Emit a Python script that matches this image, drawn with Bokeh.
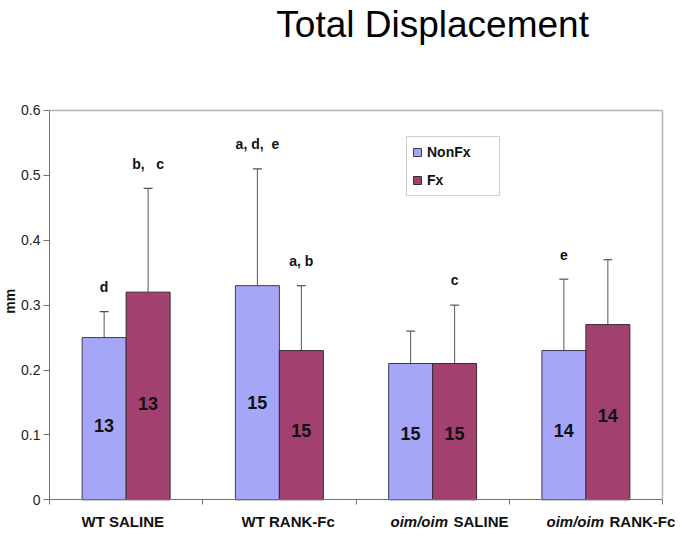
import math
from bokeh.plotting import figure
from bokeh.models import (ColumnDataSource, Range1d, FixedTicker, Whisker, TeeHead,
                          LabelSet, Label, Legend, LegendItem, LinearAxis)
from bokeh.core.properties import value
from bokeh.embed import file_html
from bokeh.resources import INLINE

# ---- data ----
groups = ["WT SALINE", "WT RANK-Fc", "oim/oim SALINE", "oim/oim RANK-Fc"]
label_italic = ["", "", "oim/oim", "oim/oim"]
label_plain = ["WT SALINE", "WT RANK-Fc", "SALINE", "RANK-Fc"]
nonfx_mean = [0.25, 0.33, 0.21, 0.23]
nonfx_err = [0.04, 0.18, 0.05, 0.11]
fx_mean = [0.32, 0.23, 0.21, 0.27]
fx_err = [0.16, 0.10, 0.09, 0.10]
nonfx_n = ["13", "15", "15", "14"]
fx_n = ["13", "15", "15", "14"]
nonfx_sig = ["d", "a, d,\u00a0\u00a0e", "", "e"]
fx_sig = ["b,\u00a0\u00a0\u00a0c", "a, b", "c", ""]
y_ticks = [0, 0.1, 0.2, 0.3, 0.4, 0.5, 0.6]
y_max = 0.6

# ---- layout helpers (not data) ----
W, H = 679, 531
PX_X = 153.25          # px per group
PX_Y = 648.9           # px per mm
AX_LEFT, AX_BOTTOM = 49, 499.3   # pixel position of data origin
bar_w = 0.287
nonfx_label_y = [0.114, 0.150, 0.102, 0.107]
fx_label_y = [0.149, 0.107, 0.102, 0.130]
xlabel_left = [0.209, 0.253, 0.225, 0.243]

NONFX_COLOR = "#a6a6f8"
FX_COLOR = "#a2416f"
FONT = "Liberation Sans"
AXIS_COLOR = "#707070"
BORDER_COLOR = "#b4b4b4"

n_groups = len(groups)
idx = list(range(n_groups))
x_non = [i + 0.5 - bar_w / 2 for i in idx]
x_fx = [i + 0.5 + bar_w / 2 for i in idx]

src_non = ColumnDataSource(dict(
    x=x_non, top=nonfx_mean, upper=[m + e for m, e in zip(nonfx_mean, nonfx_err)],
    n=nonfx_n, ny=nonfx_label_y, sig=nonfx_sig,
    sy=[m + e + 0.038 for m, e in zip(nonfx_mean, nonfx_err)]))
src_fx = ColumnDataSource(dict(
    x=x_fx, top=fx_mean, upper=[m + e for m, e in zip(fx_mean, fx_err)],
    n=fx_n, ny=fx_label_y, sig=fx_sig,
    sy=[m + e + 0.038 for m, e in zip(fx_mean, fx_err)]))

x_start = -AX_LEFT / PX_X
x_end = (W - AX_LEFT) / PX_X
y_start = -(H - AX_BOTTOM) / PX_Y
y_end = AX_BOTTOM / PX_Y

p = figure(width=W, height=H, output_backend="svg", toolbar_location=None,
           x_range=Range1d(x_start, x_end), y_range=Range1d(y_start, y_end),
           x_axis_location=None, y_axis_location=None,
           min_border=0, min_border_left=0, min_border_right=0,
           min_border_top=0, min_border_bottom=0)
p.background_fill_color = "white"
p.border_fill_color = "white"
p.outline_line_color = None
p.xgrid.visible = False
p.ygrid.visible = False

# y axis at x = 0
yax = LinearAxis(fixed_location=0, bounds=(0, y_max), ticker=FixedTicker(ticks=y_ticks))
yax.major_label_text_font = FONT
yax.major_label_text_font_size = "14px"
yax.major_label_text_color = "#222222"
yax.major_tick_out = 6
yax.major_tick_in = 0
yax.minor_tick_line_color = None
yax.major_label_standoff = 3
yax.axis_line_color = AXIS_COLOR
yax.major_tick_line_color = AXIS_COLOR
p.add_layout(yax, "left")

# x axis at y = 0 (category boundaries as ticks)
xax = LinearAxis(fixed_location=0, bounds=(0, n_groups),
                 ticker=FixedTicker(ticks=list(range(n_groups + 1))))
xax.major_label_overrides = {i: "" for i in range(n_groups + 1)}
xax.major_tick_out = 5
xax.major_tick_in = 0
xax.minor_tick_line_color = None
xax.axis_line_color = AXIS_COLOR
xax.major_tick_line_color = AXIS_COLOR
p.add_layout(xax, "below")

# plot-area border (top & right)
top_ax = LinearAxis(fixed_location=y_max, bounds=(0, n_groups), ticker=FixedTicker(ticks=[]))
top_ax.axis_line_color = BORDER_COLOR
top_ax.axis_line_width = 1.5
top_ax.major_label_text_font_size = "0px"
p.add_layout(top_ax, "above")
right_ax = LinearAxis(fixed_location=n_groups, bounds=(0, y_max), ticker=FixedTicker(ticks=[]))
right_ax.axis_line_color = BORDER_COLOR
right_ax.axis_line_width = 1.5
right_ax.major_label_text_font_size = "0px"
p.add_layout(right_ax, "right")

# whiskers (upward only)
for src in (src_non, src_fx):
    w = Whisker(source=src, base="x", lower="top", upper="upper", dimension="height",
                line_color="#555555", line_width=1,
                upper_head=TeeHead(size=9, line_color="#555555", line_width=1.2),
                lower_head=None, level="underlay")
    p.add_layout(w)

r_non = p.vbar(x="x", top="top", width=bar_w, source=src_non,
               fill_color=NONFX_COLOR, line_color="#3a3a50", line_width=1)
r_fx = p.vbar(x="x", top="top", width=bar_w, source=src_fx,
              fill_color=FX_COLOR, line_color="#3a2a35", line_width=1)

# n labels inside bars and significance letters
for src in (src_non, src_fx):
    p.add_layout(LabelSet(x="x", y="ny", text="n", source=src, text_align="center",
                          text_baseline="middle", text_font=value(FONT),
                          text_font_size=value("18px"), text_font_style="bold",
                          text_color="#111111"))
    p.add_layout(LabelSet(x="x", y="sy", text="sig", source=src, text_align="center",
                          text_baseline="middle", text_font=value(FONT),
                          text_font_size=value("14px"), text_font_style="bold",
                          text_color="#111111"))

# legend
legend = Legend(items=[LegendItem(label="NonFx", renderers=[r_non]),
                       LegendItem(label="Fx", renderers=[r_fx])],
                location=(406, H - 196), orientation="vertical",
                glyph_width=10, glyph_height=10, label_standoff=5,
                label_width=67, label_height=20, spacing=8, padding=5, margin=0,
                label_text_font=FONT, label_text_font_size="14px",
                label_text_font_style="bold", label_text_color="#111111",
                border_line_color="#a0a0a0", border_line_width=1,
                background_fill_color="white")
p.add_layout(legend)

# x category labels (bold, with italic parts)
xlab_y = -(521 - AX_BOTTOM) / PX_Y
for i in idx:
    xl = i + xlabel_left[i]
    if label_italic[i]:
        p.add_layout(Label(x=xl, y=xlab_y, text=label_italic[i], text_align="left",
                           text_baseline="middle", text_font=FONT,
                           text_font_size="15px", text_font_style="bold italic",
                           text_color="#111111"))
        p.add_layout(Label(x=xl, y=xlab_y, x_offset=63, text=label_plain[i],
                           text_align="left", text_baseline="middle",
                           text_font=FONT, text_font_size="15px",
                           text_font_style="bold", text_color="#111111"))
    else:
        p.add_layout(Label(x=xl, y=xlab_y, text=label_plain[i], text_align="left",
                           text_baseline="middle", text_font=FONT,
                           text_font_size="15px", text_font_style="bold",
                           text_color="#111111"))

# y axis title
p.add_layout(Label(x=(9 - AX_LEFT) / PX_X, y=0.306, text="mm", angle=math.pi / 2,
                   text_align="center", text_baseline="middle", text_font=FONT,
                   text_font_size="14px", text_font_style="bold",
                   text_color="#111111"))

# chart title
p.add_layout(Label(x=2.5, y=(AX_BOTTOM - 24) / PX_Y, text="Total Displacement",
                   text_align="center", text_baseline="middle", text_font=FONT,
                   text_font_size="37px", text_color="#000000"))

open("out.html", "w").write(file_html(p, INLINE))
